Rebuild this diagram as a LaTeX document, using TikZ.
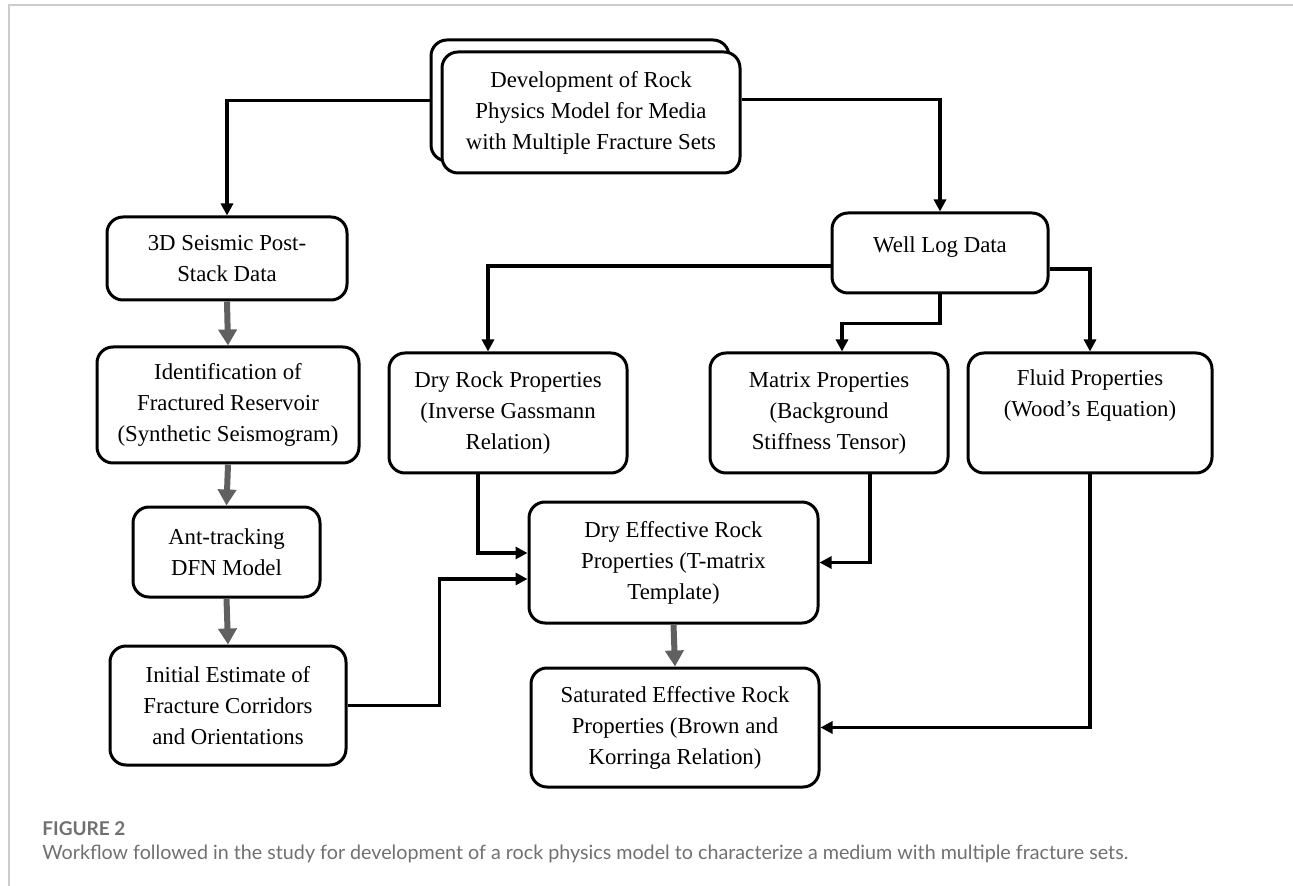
\documentclass[tikz,border=0pt]{standalone}
\usepackage{fontspec}
\setmainfont{Liberation Serif}
\newfontfamily\capfont{Lato}
\usetikzlibrary{arrows.meta,positioning}
\definecolor{ink}{RGB}{0,0,0}
\definecolor{slate}{RGB}{96,96,96}
\definecolor{edgegray}{RGB}{205,205,205}
\definecolor{capgray}{RGB}{112,112,112}
\tikzset{
  >={Triangle[length=6pt,width=6pt]},
  box/.style={draw=ink,line width=1.5pt,rounded corners=8pt,fill=white,
    align=center,inner sep=2pt,font=\fontsize{11.4}{15.5}\selectfont},
  flow/.style={->,line width=1.6pt,draw=ink},
  pipe/.style={-{Triangle[length=8pt,width=9pt]},line width=3pt,draw=slate},
  tag/.style={font=\capfont\fontsize{9.85}{11}\selectfont,text=capgray,
    anchor=base west,inner sep=0pt},
}
\begin{document}
\begin{tikzpicture}[x=0.5pt,y=-0.5pt]
  \useasboundingbox (0,0) rectangle (1293,886);
  \draw[edgegray,line width=1pt] (1293,5) -- (9,5) -- (9,886);
  % top
  \node[box,minimum width=149pt,minimum height=60.5pt] (devback) at (580,100.5) {};
  \node[box,minimum width=149pt,minimum height=60.5pt] (dev) at (591,112.5)
    {Development of Rock\\Physics Model for Media\\with Multiple Fracture Sets};
  % seismic column
  \node[box,minimum width=120pt,minimum height=41.5pt] (seis) at (227,258.5) {3D Seismic Post-\\Stack Data};
  \node[box,minimum width=131pt,minimum height=58pt] (ident) at (228,405)
    {Identification of\\Fractured Reservoir\\(Synthetic Seismogram)};
  \node[box,minimum width=93.5pt,minimum height=45pt] (ant) at (226.5,552) {Ant-tracking\\DFN Model};
  \node[box,minimum width=118pt,minimum height=59.5pt] (init) at (228,705.5)
    {Initial Estimate of\\Fracture Corridors\\and Orientations};
  % well log column
  \node[box,minimum width=108pt,minimum height=40pt,text depth=8pt] (well) at (940,253) {Well Log Data};
  \node[box,minimum width=119pt,minimum height=60pt] (dry) at (508,413)
    {Dry Rock Properties\\(Inverse Gassmann\\Relation)};
  \node[box,minimum width=119pt,minimum height=60pt] (matrix) at (829,413)
    {Matrix Properties\\(Background\\Stiffness Tensor)};
  \node[box,minimum width=122pt,minimum height=60pt] (fluid) at (1090,413)
    {Fluid Properties\\(Wood’s Equation)\\\strut};
  \node[box,minimum width=144.5pt,minimum height=60.5pt] (dryeff) at (673.5,562.5)
    {Dry Effective Rock\\Properties (T-matrix\\Template)};
  \node[box,minimum width=144pt,minimum height=59.5pt] (sat) at (675,727.5)
    {Saturated Effective Rock\\Properties (Brown and\\Korringa Relation)};
  % connectors
  \draw[flow] (devback.west) -| (seis.north);
  \draw[flow] ([yshift=6.5pt]dev.east) -| (well.north);
  \draw[flow] ([yshift=-6.5pt]well.west) -| ([xshift=-10pt]dry.north);
  \draw[flow] (well.south) -- ++(0,29) -| ([xshift=6.5pt]matrix.north);
  \draw[flow] ([yshift=-8pt]well.east) -| (fluid.north);
  \draw[flow] ([xshift=-15pt]dry.south) |- ([yshift=4.75pt]dryeff.west);
  \draw[flow] (init.east) -- ++(92,0) |- ([yshift=-8.25pt]dryeff.west);
  \draw[flow] ([xshift=20.5pt]matrix.south) |- (dryeff.east);
  \draw[flow] (fluid.south) |- (sat.east);
  \draw[pipe] (seis.south) -- (ident.north);
  \draw[pipe] (ident.south) -- (ant.north);
  \draw[pipe] (ant.south) -- (init.north);
  \draw[pipe] (dryeff.south) -- (sat.north);
  % caption
  \node[tag,font=\capfont\bfseries\fontsize{9.5}{11}\selectfont] (figno) at (42,835) {FIGURE 2};
  \node[tag] (figtext) at (42,859) {Workflow followed in the study for development of a rock physics model to characterize a medium with multiple fracture sets.};
\end{tikzpicture}
\end{document}
